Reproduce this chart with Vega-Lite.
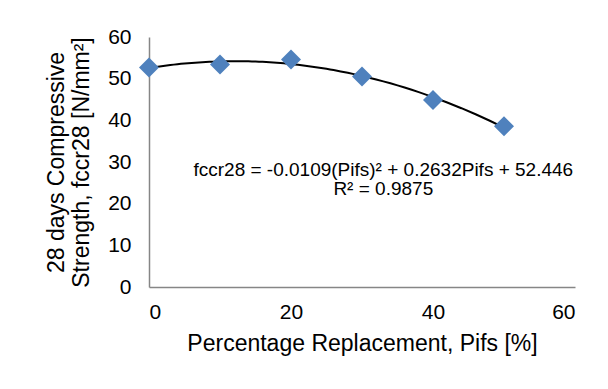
{
  "$schema": "https://vega.github.io/schema/vega-lite/v6.json",
  "width": 426,
  "height": 250,
  "autosize": "none",
  "padding": {"left": 149, "top": 37, "right": 33, "bottom": 102},
  "background": "white",
  "config": {
    "view": {"stroke": null},
    "font": "Liberation Sans",
    "axis": {
      "grid": false,
      "ticks": false,
      "domainColor": "#868686",
      "domainWidth": 1.5,
      "labelFont": "Liberation Sans",
      "labelFontSize": 21,
      "labelColor": "#000000",
      "titleFont": "Liberation Sans",
      "titleFontSize": 23,
      "titleFontWeight": "normal",
      "titleColor": "#000000"
    }
  },
  "data": {
    "values": [
      {"P": 0, "f": 52.7},
      {"P": 10, "f": 53.4},
      {"P": 20, "f": 54.6},
      {"P": 30, "f": 50.5},
      {"P": 40, "f": 44.9},
      {"P": 50, "f": 38.6}
    ]
  },
  "layer": [
    {
      "transform": [
        {"regression": "f", "on": "P", "method": "poly", "order": 2, "extent": [0, 50]}
      ],
      "mark": {"type": "line", "color": "#000000", "strokeWidth": 2},
      "encoding": {
        "x": {"field": "P", "type": "quantitative"},
        "y": {"field": "f", "type": "quantitative"}
      }
    },
    {
      "mark": {"type": "point", "shape": "diamond", "filled": true, "color": "#4F81BD", "opacity": 1, "size": 400},
      "encoding": {
        "x": {
          "field": "P", "type": "quantitative",
          "scale": {"domain": [0, 60], "nice": false, "zero": true},
          "axis": {"values": [0, 20, 40, 60], "labelPadding": 14, "title": "Percentage Replacement, Pifs [%]", "titlePadding": 10}
        },
        "y": {
          "field": "f", "type": "quantitative",
          "scale": {"domain": [0, 60], "nice": false},
          "axis": {"values": [0, 10, 20, 30, 40, 50, 60], "labelPadding": 18, "title": ["28 days Compressive", "Strength, fccr28 [N/mm²]"], "titlePadding": 14, "titleLineHeight": 25}
        }
      }
    },
    {
      "data": {"values": [{"P": 33, "f": 28.1, "t": ["fccr28 = -0.0109(Pifs)² + 0.2632Pifs + 52.446", "R² = 0.9875"]}]},
      "mark": {"type": "text", "fontSize": 19, "font": "Liberation Sans", "align": "center", "baseline": "middle", "lineHeight": 19, "color": "#000000"},
      "encoding": {
        "x": {"field": "P", "type": "quantitative"},
        "y": {"field": "f", "type": "quantitative"},
        "text": {"field": "t"}
      }
    }
  ]
}
